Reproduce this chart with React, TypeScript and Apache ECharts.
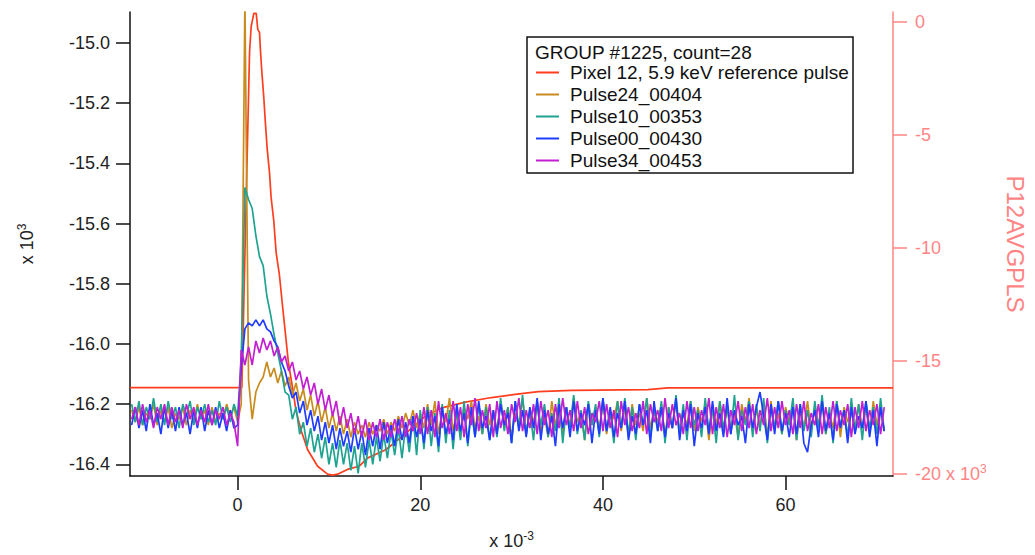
import React, { useEffect, useRef } from "react";
import * as echarts from "echarts";

// sample grid of the pulse records (x 10^-3)
const T0 = -11.6;
const DT = 0.4;

const xTicks = [0, 20, 40, 60];
const leftTicks = [-16.4, -16.2, -16.0, -15.8, -15.6, -15.4, -15.2, -15.0];
const rightTicks = [-20, -15, -10, -5, 0];

const legendTitle = "GROUP #1225, count=28";
const seriesNames = [
  "Pixel 12, 5.9 keV reference pulse",
  "Pulse24_00404",
  "Pulse10_00353",
  "Pulse00_00430",
  "Pulse34_00453",
];
const seriesColors = ["#ff3d1f", "#c88b1e", "#1fa391", "#1f3cff", "#c21fd1"];

// reference pulse (right axis, x 10^3)
const refT = [-11.78, 0.0, 0.47, 1.31, 1.49, 1.78, 2.04, 2.21, 2.4, 2.51, 2.65, 2.87, 3.02, 3.24, 3.49, 3.67, 3.96, 4.22, 4.58, 4.94, 5.31, 5.56, 6.03, 6.4, 6.95, 7.67, 8.76, 9.85, 10.4, 10.94, 12.03, 13.3, 14.21, 16.22, 18.21, 19.12, 20.58, 22.36, 24.94, 27.81, 30.39, 32.93, 36.56, 44.93, 47.1, 71.76];
const refV = [-16.18, -16.18, -16.18, -1.34, -0.2, 0.37, 0.37, -0.34, -0.48, -1.33, -2.19, -3.35, -4.33, -5.62, -6.65, -7.77, -8.8, -10.21, -11.2, -12.65, -14.08, -15.06, -16.22, -17.21, -18.07, -18.93, -19.66, -20.01, -20.05, -20.01, -19.8, -19.66, -19.3, -18.93, -18.28, -17.94, -17.44, -17.08, -16.82, -16.62, -16.48, -16.36, -16.3, -16.27, -16.19, -16.19];

// pulses (left axis, x 10^3)
const pulse24 = [
  -16.22,-16.26,-16.21,-16.27,-16.23,-16.25,-16.20,-16.27,-16.22,-16.26,
  -16.21,-16.28,-16.23,-16.25,-16.21,-16.27,-16.22,-16.26,-16.20,-16.25,
  -16.22,-16.27,-16.21,-16.26,-16.23,-16.25,-16.20,-16.24,-16.21,-16.26,
  -16.20,-14.85,-16.12,-16.25,-16.16,-16.13,-16.11,-16.06,-16.11,-16.08,
  -16.13,-16.09,-16.14,-16.11,-16.17,-16.13,-16.19,-16.15,-16.22,-16.17,
  -16.24,-16.19,-16.26,-16.21,-16.28,-16.23,-16.29,-16.24,-16.30,-16.25,
  -16.31,-16.26,-16.30,-16.27,-16.31,-16.26,-16.30,-16.27,-16.29,-16.25,
  -16.30,-16.26,-16.29,-16.24,-16.28,-16.23,-16.27,-16.22,-16.28,-16.23,
  -16.28,-16.20,-16.27,-16.19,-16.30,-16.22,-16.26,-16.18,-16.29,-16.23,
  -16.31,-16.21,-16.25,-16.19,-16.28,-16.24,-16.30,-16.20,-16.27,-16.22,
  -16.29,-16.19,-16.26,-16.21,-16.31,-16.23,-16.27,-16.18,-16.30,-16.22,
  -16.26,-16.20,-16.29,-16.24,-16.31,-16.19,-16.27,-16.22,-16.30,-16.21,
  -16.28,-16.18,-16.26,-16.23,-16.32,-16.20,-16.27,-16.21,-16.29,-16.19,
  -16.30,-16.22,-16.25,-16.19,-16.29,-16.21,-16.31,-16.20,-16.27,-16.23,
  -16.29,-16.18,-16.28,-16.22,-16.26,-16.20,-16.31,-16.21,-16.28,-16.19,
  -16.30,-16.23,-16.27,-16.19,-16.29,-16.21,-16.26,-16.20,-16.32,-16.22,
  -16.27,-16.19,-16.30,-16.21,-16.28,-16.23,-16.31,-16.20,-16.26,-16.18,
  -16.29,-16.22,-16.27,-16.20,-16.31,-16.19,-16.28,-16.23,-16.30,-16.21,
  -16.26,-16.20,-16.32,-16.22,-16.28,-16.19,-16.29,-16.21,-16.27,-16.20,
  -16.30,-16.23,-16.28,-16.19,-16.31,-16.21,-16.26,-16.22,-16.29,-16.20,
  -16.28,-16.21,-16.30,-16.19,-16.27,-16.22,-16.29,
];
const pulse10 = [
  -16.20,-16.26,-16.19,-16.27,-16.21,-16.25,-16.18,-16.26,-16.20,-16.27,
  -16.19,-16.25,-16.21,-16.28,-16.20,-16.24,-16.19,-16.27,-16.21,-16.25,
  -16.20,-16.26,-16.22,-16.27,-16.19,-16.25,-16.21,-16.26,-16.20,-16.24,
  -16.05,-15.48,-15.52,-15.55,-15.64,-15.71,-15.74,-15.84,-15.90,-15.97,
  -16.03,-16.09,-16.16,-16.17,-16.25,-16.21,-16.30,-16.26,-16.34,-16.28,
  -16.36,-16.30,-16.38,-16.31,-16.40,-16.33,-16.41,-16.32,-16.40,-16.33,
  -16.42,-16.34,-16.43,-16.33,-16.41,-16.32,-16.40,-16.31,-16.39,-16.30,
  -16.38,-16.29,-16.37,-16.28,-16.38,-16.27,-16.36,-16.24,-16.37,-16.22,
  -16.35,-16.21,-16.34,-16.23,-16.36,-16.20,-16.33,-16.22,-16.35,-16.21,
  -16.32,-16.19,-16.34,-16.22,-16.31,-16.20,-16.30,-16.21,-16.32,-16.23,
  -16.31,-16.18,-16.29,-16.21,-16.33,-16.19,-16.28,-16.17,-16.30,-16.22,
  -16.32,-16.19,-16.27,-16.20,-16.31,-16.23,-16.29,-16.18,-16.33,-16.21,
  -16.28,-16.17,-16.30,-16.22,-16.32,-16.19,-16.27,-16.20,-16.31,-16.18,
  -16.29,-16.23,-16.33,-16.19,-16.28,-16.18,-16.30,-16.21,-16.32,-16.20,
  -16.27,-16.18,-16.31,-16.22,-16.29,-16.19,-16.33,-16.21,-16.28,-16.17,
  -16.30,-16.20,-16.32,-16.19,-16.27,-16.22,-16.31,-16.18,-16.29,-16.21,
  -16.33,-16.19,-16.28,-16.21,-16.30,-16.17,-16.32,-16.22,-16.27,-16.19,
  -16.31,-16.20,-16.29,-16.18,-16.33,-16.21,-16.28,-16.19,-16.30,-16.22,
  -16.27,-16.18,-16.32,-16.20,-16.29,-16.22,-16.31,-16.19,-16.28,-16.17,
  -16.30,-16.21,-16.33,-16.19,-16.27,-16.22,-16.31,-16.18,-16.29,-16.20,
  -16.32,-16.19,-16.28,-16.21,-16.30,-16.18,-16.29,
];
const pulse00 = [
  -16.27,-16.21,-16.28,-16.22,-16.29,-16.20,-16.27,-16.23,-16.30,-16.21,
  -16.28,-16.22,-16.29,-16.21,-16.27,-16.23,-16.30,-16.22,-16.28,-16.21,
  -16.29,-16.22,-16.27,-16.21,-16.28,-16.23,-16.29,-16.22,-16.28,-16.27,
  -16.08,-15.95,-15.93,-15.94,-15.92,-15.94,-15.92,-15.95,-15.96,-15.99,
  -16.01,-16.06,-16.09,-16.14,-16.18,-16.16,-16.23,-16.19,-16.27,-16.22,
  -16.29,-16.24,-16.32,-16.26,-16.33,-16.27,-16.35,-16.28,-16.34,-16.29,
  -16.36,-16.28,-16.35,-16.29,-16.37,-16.28,-16.34,-16.27,-16.35,-16.26,
  -16.33,-16.27,-16.34,-16.25,-16.32,-16.26,-16.33,-16.24,-16.31,-16.25,
  -16.33,-16.22,-16.29,-16.24,-16.34,-16.21,-16.30,-16.25,-16.32,-16.20,
  -16.29,-16.23,-16.33,-16.21,-16.31,-16.19,-16.28,-16.24,-16.32,-16.22,
  -16.30,-16.20,-16.27,-16.23,-16.33,-16.19,-16.29,-16.22,-16.31,-16.21,
  -16.28,-16.18,-16.32,-16.22,-16.30,-16.24,-16.34,-16.20,-16.28,-16.21,
  -16.31,-16.19,-16.29,-16.23,-16.27,-16.20,-16.33,-16.22,-16.30,-16.18,
  -16.29,-16.21,-16.31,-16.23,-16.28,-16.19,-16.32,-16.24,-16.30,-16.20,
  -16.27,-16.22,-16.33,-16.19,-16.29,-16.21,-16.31,-16.23,-16.28,-16.18,
  -16.32,-16.22,-16.29,-16.20,-16.34,-16.23,-16.28,-16.21,-16.30,-16.19,
  -16.29,-16.23,-16.31,-16.18,-16.30,-16.22,-16.27,-16.24,-16.33,-16.20,
  -16.28,-16.21,-16.16,-16.24,-16.32,-16.20,-16.30,-16.19,-16.29,-16.23,
  -16.31,-16.21,-16.30,-16.20,-16.33,-16.36,-16.27,-16.22,-16.31,-16.19,
  -16.29,-16.23,-16.32,-16.20,-16.28,-16.22,-16.33,-16.21,-16.30,-16.24,
  -16.28,-16.19,-16.31,-16.22,-16.34,-16.21,-16.29,
];
const pulse34 = [
  -16.25,-16.21,-16.27,-16.20,-16.26,-16.22,-16.28,-16.21,-16.25,-16.20,
  -16.27,-16.21,-16.26,-16.22,-16.28,-16.20,-16.25,-16.21,-16.27,-16.22,
  -16.26,-16.20,-16.27,-16.22,-16.25,-16.21,-16.27,-16.23,-16.26,-16.34,
  -16.02,-16.07,-16.01,-16.07,-15.99,-16.03,-15.98,-16.02,-15.99,-16.04,
  -16.01,-16.06,-16.04,-16.09,-16.06,-16.12,-16.09,-16.15,-16.11,-16.17,
  -16.13,-16.20,-16.15,-16.22,-16.17,-16.24,-16.19,-16.27,-16.21,-16.28,
  -16.23,-16.30,-16.24,-16.31,-16.25,-16.32,-16.26,-16.31,-16.25,-16.32,
  -16.26,-16.31,-16.25,-16.30,-16.24,-16.31,-16.25,-16.29,-16.23,-16.30,
  -16.21,-16.30,-16.22,-16.31,-16.19,-16.28,-16.23,-16.30,-16.19,-16.29,
  -16.21,-16.31,-16.20,-16.27,-16.18,-16.29,-16.22,-16.28,-16.20,-16.31,
  -16.19,-16.28,-16.22,-16.30,-16.20,-16.26,-16.18,-16.29,-16.22,-16.28,
  -16.20,-16.30,-16.19,-16.27,-16.22,-16.31,-16.20,-16.28,-16.18,-16.27,
  -16.22,-16.29,-16.19,-16.28,-16.21,-16.30,-16.23,-16.26,-16.19,-16.29,
  -16.20,-16.28,-16.22,-16.31,-16.19,-16.27,-16.21,-16.29,-16.23,-16.28,
  -16.19,-16.30,-16.20,-16.26,-16.22,-16.29,-16.18,-16.28,-16.20,-16.27,
  -16.23,-16.30,-16.19,-16.28,-16.21,-16.29,-16.22,-16.27,-16.18,-16.30,
  -16.21,-16.28,-16.20,-16.31,-16.22,-16.27,-16.19,-16.29,-16.21,-16.28,
  -16.20,-16.30,-16.22,-16.27,-16.18,-16.29,-16.21,-16.28,-16.19,-16.27,
  -16.22,-16.30,-16.20,-16.28,-16.19,-16.29,-16.23,-16.27,-16.20,-16.30,
  -16.21,-16.28,-16.19,-16.29,-16.22,-16.27,-16.20,-16.31,-16.21,-16.28,
  -16.19,-16.29,-16.22,-16.27,-16.20,-16.30,-16.21,
];

const FONT = "'Liberation Sans', Arial, Helvetica, sans-serif";
const AXIS_COLOR = "#111";
const RIGHT_COLOR = "#ff8585";

const toPairs = (vals: number[]) =>
  vals.map((v, i) => [+(T0 + i * DT).toFixed(2), v]);

export default function App() {
  const ref = useRef<HTMLDivElement>(null);

  useEffect(() => {
    if (!ref.current) return;
    const chart = echarts.init(ref.current, undefined, { renderer: "svg" });

    const pulses = [pulse24, pulse10, pulse00, pulse34];
    const supRich = { sup: { fontSize: 12, fontFamily: FONT, padding: [0, 0, 10, 0] } };

    const series: any[] = [
      {
        name: seriesNames[0],
        type: "line",
        yAxisIndex: 1,
        data: refT.map((t, i) => [t, refV[i]]),
        showSymbol: false,
        symbol: "none",
        lineStyle: { color: seriesColors[0], width: 1.7 },
        itemStyle: { color: seriesColors[0] },
        z: 2,
      },
      ...pulses.map((p, k) => ({
        name: seriesNames[k + 1],
        type: "line",
        yAxisIndex: 0,
        data: toPairs(p),
        showSymbol: false,
        symbol: "none",
        clip: true,
        lineStyle: { color: seriesColors[k + 1], width: 1.7 },
        itemStyle: { color: seriesColors[k + 1] },
        z: 3 + k,
      })),
    ];

    chart.setOption({
      animation: false,
      backgroundColor: "#ffffff",
      textStyle: { fontFamily: FONT },
      grid: { left: 130, right: 139, top: 12, bottom: 65, containLabel: false },
      xAxis: {
        type: "value",
        min: -11.78,
        max: 71.76,
        axisLine: { show: true, onZero: false, lineStyle: { color: AXIS_COLOR, width: 1.5 } },
        axisTick: {
          show: true,
          inside: false,
          length: 14,
          customValues: xTicks,
          lineStyle: { color: AXIS_COLOR, width: 1.5 },
        },
        axisLabel: {
          customValues: xTicks,
          margin: 20,
          fontSize: 18,
          color: "#222",
          fontFamily: FONT,
        },
        splitLine: { show: false },
        name: "x 10{sup|-3}",
        nameLocation: "middle",
        nameGap: 54,
        nameTextStyle: { fontSize: 18, color: "#222", fontFamily: FONT, rich: supRich },
      },
      yAxis: [
        {
          type: "value",
          position: "left",
          min: -16.439,
          max: -14.897,
          axisLine: { show: true, onZero: false, lineStyle: { color: AXIS_COLOR, width: 1.5 } },
          axisTick: {
            show: true,
            inside: false,
            length: 14,
            customValues: leftTicks,
            lineStyle: { color: AXIS_COLOR, width: 1.5 },
          },
          axisLabel: {
            customValues: leftTicks,
            margin: 20,
            fontSize: 18,
            color: "#222",
            fontFamily: FONT,
            formatter: (v: number) => v.toFixed(1),
          },
          splitLine: { show: false },
          name: "x 10{sup|3}",
          nameLocation: "middle",
          nameGap: 92,
          nameTextStyle: { fontSize: 18, color: "#222", fontFamily: FONT, rich: supRich },
        },
        {
          type: "value",
          position: "right",
          min: -20.09,
          max: 0.43,
          axisLine: { show: true, onZero: false, lineStyle: { color: RIGHT_COLOR, width: 1.5 } },
          axisTick: {
            show: true,
            inside: false,
            length: 14,
            customValues: rightTicks,
            lineStyle: { color: RIGHT_COLOR, width: 1.5 },
          },
          axisLabel: {
            customValues: rightTicks,
            margin: 22,
            fontSize: 18,
            color: RIGHT_COLOR,
            fontFamily: FONT,
            formatter: (v: number) => (Math.round(v) === -20 ? "-20 x 10{sup|3}" : String(Math.round(v))),
            rich: { sup: { fontSize: 12, color: RIGHT_COLOR, fontFamily: FONT, padding: [0, 0, 10, 0] } },
          },
          splitLine: { show: false },
          name: "P12AVGPLS",
          nameLocation: "middle",
          nameRotate: -90,
          nameGap: 110,
          nameTextStyle: { fontSize: 24, color: RIGHT_COLOR, fontFamily: FONT },
        },
      ],
      legend: {
        show: true,
        orient: "vertical",
        left: 536,
        top: 63,
        padding: 0,
        icon: "rect",
        itemWidth: 23,
        itemHeight: 2,
        itemGap: 3,
        data: seriesNames,
        textStyle: { fontSize: 19, color: "#111", fontFamily: FONT, lineHeight: 18, padding: [0, 0, 0, 6] },
        z: 10,
      },
      graphic: [
        {
          type: "rect",
          z: 8,
          shape: { x: 527, y: 37, width: 326, height: 136 },
          style: { fill: "#ffffff", stroke: "#111", lineWidth: 1.5 },
        },
        {
          type: "text",
          z: 10,
          x: 535,
          y: 52,
          style: {
            text: legendTitle,
            fill: "#111",
            font: `19px ${FONT}`,
            verticalAlign: "middle",
          },
        },
      ],
      series,
    });

    return () => chart.dispose();
  }, []);

  return (
    <div
      ref={ref}
      style={{ position: "fixed", left: 0, top: 0, width: 1035, height: 555, background: "#fff" }}
    />
  );
}
